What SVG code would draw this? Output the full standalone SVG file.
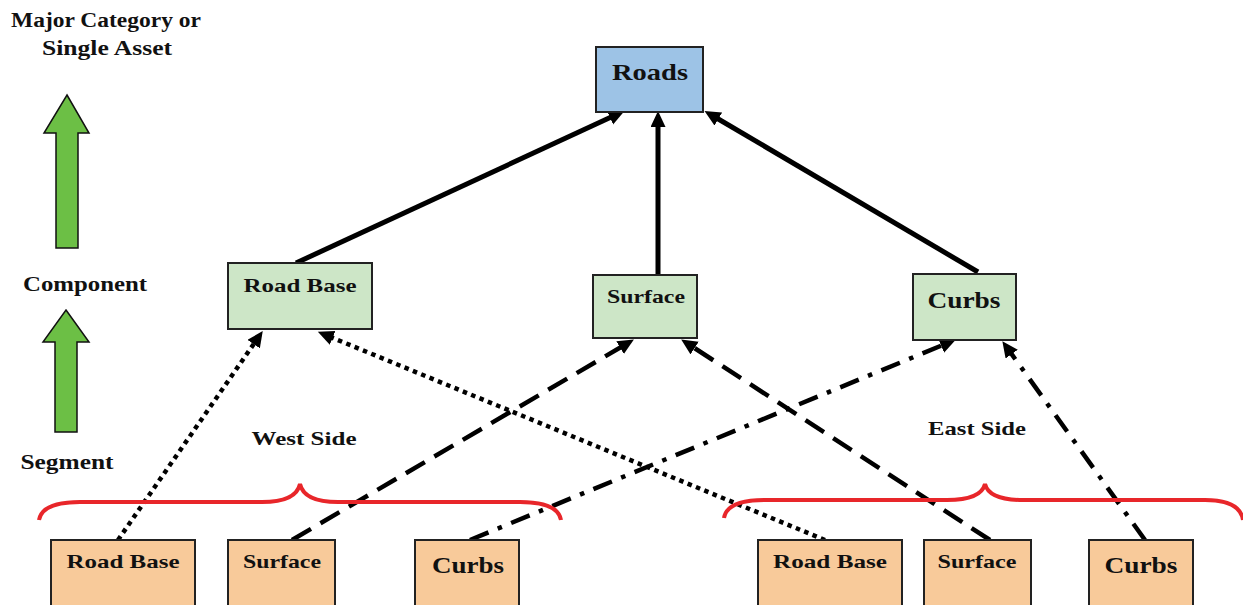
<svg xmlns="http://www.w3.org/2000/svg" width="1243" height="605" viewBox="0 0 1243 605">
<style>
text{font-family:"Liberation Serif","Times New Roman",serif;font-weight:bold;fill:#111;text-anchor:middle}
.box{stroke:#222;stroke-width:2}
.top{fill:#9DC3E6}
.comp{fill:#CDE6C7}
.seg{fill:#F8CA9A}
.con{fill:none;stroke:#000;stroke-width:4.5}
.solid{stroke-width:5;marker-end:url(#ah)}
.dot{stroke-dasharray:4.5 4.5;marker-end:url(#ah)}
.dash{stroke-dasharray:22 11;marker-end:url(#ah)}
.dd{stroke-dasharray:20 10 4.5 10;marker-end:url(#ah)}
.brace{fill:none;stroke:#E8262A;stroke-width:4}
.garrow{fill:#6CBF45;stroke:#111;stroke-width:1.5}
</style>
<defs>
<marker id="ah" markerUnits="userSpaceOnUse" markerWidth="18" markerHeight="16" refX="5" refY="7.5" orient="auto">
<path d="M0,0 L16,7.5 L0,15 z" fill="#000"/>
</marker>
</defs>
<g id="legend">
<text x="106" y="27" font-size="20" textLength="190" lengthAdjust="spacingAndGlyphs">Major Category or</text>
<text x="107" y="55" font-size="20" textLength="130" lengthAdjust="spacingAndGlyphs">Single Asset</text>
<text x="85" y="291" font-size="20" textLength="124" lengthAdjust="spacingAndGlyphs">Component</text>
<text x="67" y="469" font-size="20" textLength="93" lengthAdjust="spacingAndGlyphs">Segment</text>
<path class="garrow" d="M67,95 L89,133 L78,133 L78,248 L56,248 L56,133 L44,133 z"/>
<path class="garrow" d="M66,310 L89,342 L77,342 L77,432 L55,432 L55,342 L43,342 z"/>
</g>
<g id="connectors">
<line class="con solid" x1="296" y1="263" x2="614.5" y2="115.5"/>
<line class="con solid" x1="658" y1="275" x2="658" y2="122"/>
<line class="con solid" x1="978" y1="272" x2="714" y2="116.5"/>
<line class="con dot" x1="118" y1="540" x2="256.5" y2="340"/>
<line class="con dot" x1="825" y1="540" x2="328" y2="336"/>
<line class="con dash" x1="292" y1="540" x2="624.4" y2="345.1"/>
<line class="con dash" x1="990" y1="540" x2="690.4" y2="345.4"/>
<line class="con dd" x1="470" y1="540" x2="945.8" y2="343.8"/>
<line class="con dd" x1="1145" y1="540" x2="1008.8" y2="350.1"/>
</g>
<g id="braces">
<path class="brace" d="M39,520 Q42,502 80,502 L262,502 Q296,502 300,484 Q304,502 338,502 L520,502 Q558,502 561,520"/>
<path class="brace" d="M724,518 Q727,500 765,500 L947,500 Q981,500 985,484 Q989,500 1023,500 L1205,500 Q1240,500 1243,520"/>
<text x="304" y="445" font-size="19" textLength="105" lengthAdjust="spacingAndGlyphs">West Side</text>
<text x="977" y="435" font-size="19" textLength="98" lengthAdjust="spacingAndGlyphs">East Side</text>
</g>
<g id="roads">
<rect class="box top" x="596" y="47" width="107" height="65"/>
<text x="650" y="80" font-size="24" textLength="76" lengthAdjust="spacingAndGlyphs">Roads</text>
</g>
<g id="comp-roadbase">
<rect class="box comp" x="228" y="263" width="144" height="66"/>
<text x="300" y="292" font-size="19" textLength="113" lengthAdjust="spacingAndGlyphs">Road Base</text>
</g>
<g id="comp-surface">
<rect class="box comp" x="593" y="275" width="104" height="63"/>
<text x="646" y="303" font-size="19" textLength="78" lengthAdjust="spacingAndGlyphs">Surface</text>
</g>
<g id="comp-curbs">
<rect class="box comp" x="913" y="274" width="103" height="66"/>
<text x="964" y="308" font-size="23" textLength="73" lengthAdjust="spacingAndGlyphs">Curbs</text>
</g>
<g id="west-roadbase">
<rect class="box seg" x="51" y="540" width="144" height="70"/>
<text x="123" y="568" font-size="19" textLength="113" lengthAdjust="spacingAndGlyphs">Road Base</text>
</g>
<g id="west-surface">
<rect class="box seg" x="228" y="540" width="107" height="70"/>
<text x="282" y="568" font-size="19" textLength="78" lengthAdjust="spacingAndGlyphs">Surface</text>
</g>
<g id="west-curbs">
<rect class="box seg" x="415" y="540" width="104" height="70"/>
<text x="468" y="573" font-size="23" textLength="72" lengthAdjust="spacingAndGlyphs">Curbs</text>
</g>
<g id="east-roadbase">
<rect class="box seg" x="758" y="540" width="144" height="70"/>
<text x="830" y="568" font-size="19" textLength="114" lengthAdjust="spacingAndGlyphs">Road Base</text>
</g>
<g id="east-surface">
<rect class="box seg" x="924" y="540" width="107" height="70"/>
<text x="977" y="568" font-size="19" textLength="79" lengthAdjust="spacingAndGlyphs">Surface</text>
</g>
<g id="east-curbs">
<rect class="box seg" x="1089" y="540" width="104" height="70"/>
<text x="1141" y="573" font-size="23" textLength="73" lengthAdjust="spacingAndGlyphs">Curbs</text>
</g>
</svg>
